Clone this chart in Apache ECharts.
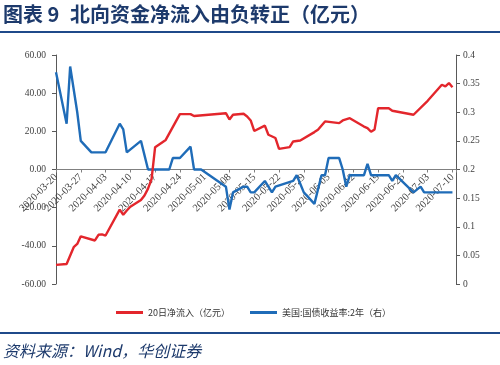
<!DOCTYPE html>
<html>
<head>
<meta charset="utf-8">
<script src="https://cdn.jsdelivr.net/npm/echarts@6/dist/echarts.min.js"></script>
<style>
  html, body { margin: 0; padding: 0; background: #fff; }
  #chart { width: 500px; height: 365px; }
</style>
</head>
<body>
<div id="chart"></div>
<script>
// ---- data ----
const startDate = '2020-03-20';
const tickLabels = ['2020-03-20','2020-03-27','2020-04-03','2020-04-10','2020-04-17','2020-04-24',
  '2020-05-01','2020-05-08','2020-05-15','2020-05-22','2020-05-29','2020-06-05','2020-06-12',
  '2020-06-19','2020-06-26','2020-07-03','2020-07-10'];

const flowDates = ['2020-03-20','2020-03-23','2020-03-25','2020-03-26','2020-03-27','2020-03-31',
  '2020-04-01','2020-04-02','2020-04-03','2020-04-07','2020-04-08','2020-04-09','2020-04-10',
  '2020-04-13','2020-04-14','2020-04-15','2020-04-16','2020-04-17','2020-04-20','2020-04-24',
  '2020-04-27','2020-04-28','2020-05-07','2020-05-08','2020-05-09','2020-05-12','2020-05-13',
  '2020-05-14','2020-05-15','2020-05-18','2020-05-19','2020-05-21','2020-05-22','2020-05-25',
  '2020-05-26','2020-05-28','2020-06-01','2020-06-02','2020-06-04','2020-06-08','2020-06-09',
  '2020-06-11','2020-06-15','2020-06-16','2020-06-17','2020-06-18','2020-06-19','2020-06-22',
  '2020-06-23','2020-06-29','2020-07-03','2020-07-07','2020-07-08','2020-07-09','2020-07-10'];
const flowValues = [-50,-49.5,-40.7,-39,-35,-37.2,
  -34.2,-34.0,-34.6,-21,-23.7,-21.5,-19.5,
  -16,-13.6,-10,-5,11.7,15.5,29,
  29,28,29.5,26.2,28.7,29.2,27.8,
  25.7,20.2,23,18.2,16.5,10.8,11.7,
  14.7,15.2,19.6,20.8,25.2,24.3,25.7,
  26.9,22.5,21.7,19.8,21,32.1,32.1,
  30.8,28.7,36,44.4,43.6,45.3,43.1];

const yieldDates = ['2020-03-20','2020-03-23','2020-03-24','2020-03-26','2020-03-27','2020-03-30',
  '2020-04-03','2020-04-07','2020-04-08','2020-04-09','2020-04-13','2020-04-15','2020-04-21',
  '2020-04-22','2020-04-24','2020-04-27','2020-04-28','2020-04-30','2020-05-07','2020-05-08',
  '2020-05-09','2020-05-12','2020-05-13','2020-05-14','2020-05-15','2020-05-18','2020-05-20',
  '2020-05-21','2020-05-26','2020-05-27','2020-05-28','2020-05-29','2020-06-01','2020-06-03',
  '2020-06-04','2020-06-05','2020-06-08','2020-06-09','2020-06-10','2020-06-11','2020-06-15',
  '2020-06-16','2020-06-17','2020-06-22','2020-06-23','2020-06-24','2020-06-29','2020-07-01',
  '2020-07-02','2020-07-10'];
const yieldValues = [0.37,0.28,0.38,0.30,0.25,0.23,
  0.23,0.28,0.27,0.23,0.25,0.20,0.20,
  0.22,0.22,0.24,0.20,0.20,0.17,0.13,
  0.16,0.17,0.17,0.16,0.16,0.18,0.16,
  0.17,0.18,0.19,0.175,0.16,0.14,0.19,
  0.19,0.22,0.22,0.20,0.17,0.19,0.19,
  0.21,0.19,0.19,0.18,0.19,0.16,0.17,
  0.16,0.16];

const leftTicks = { min: -60, max: 60, step: 20 };
const rightTicks = { min: 0, max: 0.4, step: 0.05 };
const seriesNames = ['20日净流入（亿元）', '美国:国债收益率:2年（右）'];

// ---- helpers ----
const DAY = 86400000;
const t0 = Date.parse(startDate + 'T00:00:00Z');
const dayIndex = d => Math.round((Date.parse(d + 'T00:00:00Z') - t0) / DAY);
const pairs = (ds, vs) => ds.map((d, i) => [dayIndex(d), vs[i]]);

const navy = '#1d3a6c';
const serif = 'Liberation Serif, Times New Roman, serif';
const cjk = 'Noto Sans CJK SC, sans-serif';

const gridTop = 55, gridBottom = 81, H = 365;
// move the date axis up to the left axis' zero line
const plotH = H - gridTop - gridBottom;
const zeroFromBottom = plotH * (0 - leftTicks.min) / (leftTicks.max - leftTicks.min);

const chart = echarts.init(document.getElementById('chart'), null, { renderer: 'canvas' });
chart.setOption({
  backgroundColor: '#ffffff',
  animation: false,
  grid: { left: 56, right: 44, top: gridTop, bottom: gridBottom, containLabel: false },
  legend: {
    left: 111, top: 303,
    itemWidth: 27, itemHeight: 3, itemGap: 20,
    icon: 'rect',
    textStyle: { fontSize: 9, fontFamily: cjk, color: '#333' },
    data: seriesNames
  },
  xAxis: {
    type: 'value', min: 0, max: dayIndex('2020-07-10') + 1, interval: 7,
    position: 'bottom', offset: -zeroFromBottom,
    axisLine: { onZero: false, lineStyle: { color: '#808080', width: 1 } },
    axisTick: { show: true, length: 3, lineStyle: { color: '#808080' } },
    splitLine: { show: false },
    axisLabel: {
      rotate: 45, margin: 6, fontSize: 10.5, fontFamily: serif, color: '#404040',
      formatter: v => (v % 7 === 0 && tickLabels[v / 7]) ? tickLabels[v / 7] : ''
    }
  },
  yAxis: [
    {
      type: 'value', min: leftTicks.min, max: leftTicks.max, interval: leftTicks.step,
      axisLine: { show: true, onZero: false, lineStyle: { color: '#595959', width: 1 } },
      axisTick: { show: true, length: 4, lineStyle: { color: '#595959' } },
      splitLine: { show: false },
      axisLabel: { fontSize: 9.5, fontFamily: serif, color: '#404040', margin: 10,
        formatter: v => v.toFixed(2) }
    },
    {
      type: 'value', min: rightTicks.min, max: rightTicks.max, interval: rightTicks.step,
      position: 'right',
      axisLine: { show: true, onZero: false, lineStyle: { color: '#595959', width: 1 } },
      axisTick: { show: true, length: 4, lineStyle: { color: '#595959' } },
      splitLine: { show: false },
      axisLabel: { fontSize: 9.5, fontFamily: serif, color: '#404040', margin: 7,
        formatter: v => String(+v.toFixed(2)) }
    }
  ],
  series: [
    {
      name: seriesNames[0], type: 'line', yAxisIndex: 0, z: 3,
      data: pairs(flowDates, flowValues),
      showSymbol: false, symbol: 'none',
      lineStyle: { color: '#e3262c', width: 2.4 },
      itemStyle: { color: '#e3262c' }
    },
    {
      name: seriesNames[1], type: 'line', yAxisIndex: 1, z: 2,
      data: pairs(yieldDates, yieldValues),
      showSymbol: false, symbol: 'none',
      lineStyle: { color: '#1f6cb8', width: 2.4 },
      itemStyle: { color: '#1f6cb8' }
    }
  ],
  graphic: [
    { type: 'text', left: 3, top: 4, style: { text: '图表 9', font: 'bold 20px ' + cjk, fill: navy } },
    { type: 'text', left: 70, top: 4, style: { text: '北向资金净流入由负转正（亿元）', font: 'bold 20px ' + cjk, fill: navy } },
    { type: 'rect', left: 0, top: 31, shape: { width: 500, height: 2 }, style: { fill: '#1f4a8a' } },
    { type: 'rect', left: 0, top: 332, shape: { width: 500, height: 2 }, style: { fill: '#1f4a8a' } },
    { type: 'text', left: 3, top: 343, style: { text: '资料来源：Wind，华创证券', font: 'italic 16px ' + cjk, fill: navy } }
  ]
});
</script>
</body>
</html>
